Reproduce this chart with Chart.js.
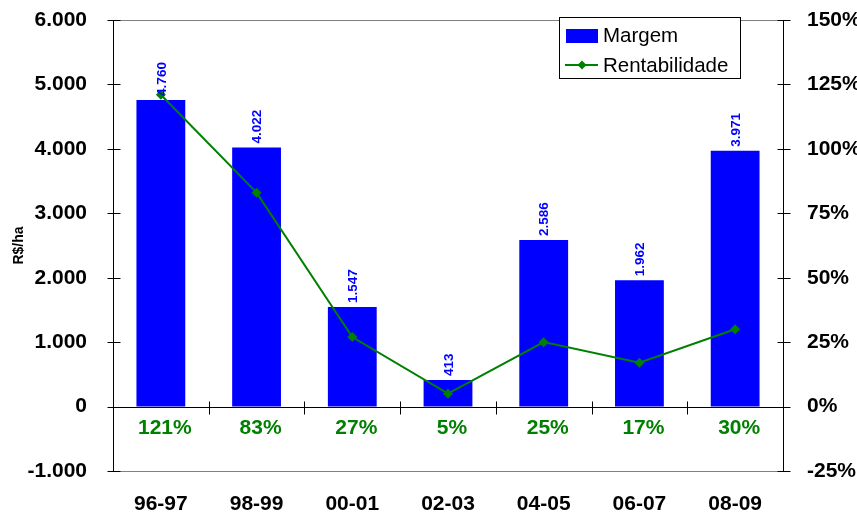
<!DOCTYPE html>
<html>
<head>
<meta charset="utf-8">
<script src="https://cdn.jsdelivr.net/npm/chart.js@4.4.1/dist/chart.umd.min.js"></script>
<style>
html,body{margin:0;padding:0;background:#fff;}
#wrap{width:857px;height:512px;position:relative;}
</style>
</head>
<body>
<div id="wrap"><canvas id="c" width="857" height="512"></canvas></div>
<script>
const categories = ['96-97','98-99','00-01','02-03','04-05','06-07','08-09'];
const margem = [4760, 4022, 1547, 413, 2586, 1962, 3971];
const rentabilidade = [121, 83, 27, 5, 25, 17, 30];
const seriesNames = ['Margem', 'Rentabilidade'];
const axisTitle = 'R$/ha';

const FONT = '"Liberation Sans", Arial, sans-serif';
const BLUE = '#0000FF';
const GREEN = '#008000';

function fmt(v){
  const s = String(Math.abs(v)).replace(/\B(?=(\d{3})+(?!\d))/g, '.');
  return (v < 0 ? '-' : '') + s;
}

function L(ctx, x1, y1, x2, y2){
  ctx.beginPath(); ctx.moveTo(x1, y1); ctx.lineTo(x2, y2); ctx.stroke();
}
const r5 = v => Math.round(v) + 0.5;

const decor = {
  id: 'decor',
  beforeDatasetsDraw(chart){
    const {ctx, chartArea: a} = chart;
    ctx.save();
    ctx.lineWidth = 1;
    ctx.strokeStyle = '#808080';
    L(ctx, a.left, r5(a.top), a.right, r5(a.top));
    L(ctx, a.left, r5(a.bottom), a.right, r5(a.bottom));
    ctx.restore();
  },
  afterDraw(chart){
    const {ctx, chartArea: a, scales: {x, y, y1}} = chart;
    ctx.save();
    ctx.lineWidth = 1;
    ctx.strokeStyle = '#000';
    const lx = r5(a.left), rx = r5(a.right);
    L(ctx, lx, a.top, lx, a.bottom + 1);
    L(ctx, rx, a.top, rx, a.bottom + 1);
    y.ticks.forEach(t => { const py = r5(y.getPixelForValue(t.value)); L(ctx, lx - 6, py, lx + 7, py); });
    y1.ticks.forEach(t => { const py = r5(y1.getPixelForValue(t.value)); L(ctx, rx - 6, py, rx + 7, py); });
    const z0 = r5(y.getPixelForValue(0));
    L(ctx, a.left, z0, a.right, z0);
    for (let i = 1; i < categories.length; i++){
      const bx = r5((x.getPixelForValue(i - 1) + x.getPixelForValue(i)) / 2);
      L(ctx, bx, z0 - 6, bx, z0 + 7);
    }

    // bar value labels (rotated)
    const meta = chart.getDatasetMeta(1);
    ctx.fillStyle = BLUE;
    ctx.font = 'bold 13.5px ' + FONT;
    meta.data.forEach((bar, i) => {
      ctx.save();
      ctx.translate(bar.x + 1, bar.y - 4);
      ctx.rotate(-Math.PI / 2);
      ctx.textAlign = 'left';
      ctx.textBaseline = 'middle';
      ctx.fillText(fmt(margem[i]), 0, 0);
      ctx.restore();
    });
    // percent labels under zero line
    const z = y.getPixelForValue(0);
    ctx.fillStyle = GREEN;
    ctx.font = 'bold 21px ' + FONT;
    ctx.textAlign = 'center';
    ctx.textBaseline = 'middle';
    rentabilidade.forEach((v, i) => {
      ctx.fillText(v + '%', x.getPixelForValue(i) + 4, z + 22);
    });
    // legend
    const bx = 559.5, by = 17.5, bw = 181, bh = 61;
    ctx.fillStyle = '#fff';
    ctx.fillRect(bx, by, bw, bh);
    ctx.strokeStyle = '#000';
    ctx.lineWidth = 1;
    ctx.strokeRect(bx, by, bw, bh);
    ctx.fillStyle = BLUE;
    ctx.fillRect(566, 29, 32, 14);
    ctx.strokeStyle = GREEN;
    ctx.lineWidth = 2;
    L(ctx, 565, 65, 598, 65);
    ctx.fillStyle = GREEN;
    ctx.beginPath();
    ctx.moveTo(582, 60.5); ctx.lineTo(586.5, 65); ctx.lineTo(582, 69.5); ctx.lineTo(577.5, 65); ctx.closePath();
    ctx.fill();
    ctx.fillStyle = '#000';
    ctx.font = '20.5px ' + FONT;
    ctx.textAlign = 'left';
    ctx.textBaseline = 'alphabetic';
    ctx.fillText(seriesNames[0], 603, 42);
    ctx.fillText(seriesNames[1], 603, 72);
    ctx.restore();
  }
};

new Chart(document.getElementById('c'), {
  type: 'bar',
  data: {
    labels: categories,
    datasets: [
      {
        type: 'line',
        label: seriesNames[1],
        data: rentabilidade,
        yAxisID: 'y1',
        borderColor: GREEN,
        backgroundColor: GREEN,
        borderWidth: 2,
        pointStyle: 'rectRot',
        pointRadius: 5,
        pointBackgroundColor: GREEN,
        pointBorderColor: GREEN,
        pointBorderWidth: 0,
        tension: 0,
        order: 1
      },
      {
        type: 'bar',
        label: seriesNames[0],
        data: margem,
        yAxisID: 'y',
        backgroundColor: BLUE,
        borderWidth: 0,
        categoryPercentage: 1,
        barPercentage: 0.51,
        order: 2
      }
    ]
  },
  options: {
    responsive: false,
    animation: false,
    devicePixelRatio: 1,
    layout: { padding: { top: 20, left: 0, right: 0, bottom: 0 } },
    plugins: { legend: { display: false }, tooltip: { enabled: false } },
    scales: {
      x: {
        grid: { display: false },
        border: { display: false },
        ticks: { color: '#000', font: { family: FONT, size: 21, weight: 'bold' }, padding: 13, maxRotation: 0 },
        afterFit(s){ s.height = 41; }
      },
      y: {
        position: 'left',
        min: -1000, max: 6000,
        grid: { display: false },
        border: { display: false },
        ticks: { stepSize: 1000, color: '#000', font: { family: FONT, size: 21, weight: 'bold' }, padding: 18, callback: v => fmt(v) },
        title: { display: true, text: axisTitle, color: '#000', font: { family: FONT, size: 14, weight: 'bold' }, padding: { top: 11, bottom: 0 } },
        afterFit(s){ s.width = 113; s.paddingTop = 0; s.paddingBottom = 0; }
      },
      y1: {
        position: 'right',
        min: -25, max: 150,
        grid: { display: false },
        border: { display: false },
        ticks: { stepSize: 25, color: '#000', font: { family: FONT, size: 21, weight: 'bold' }, padding: 16, callback: v => v + '%' },
        afterFit(s){ s.width = 74; s.paddingTop = 0; s.paddingBottom = 0; }
      }
    }
  },
  plugins: [decor]
});
</script>
</body>
</html>
